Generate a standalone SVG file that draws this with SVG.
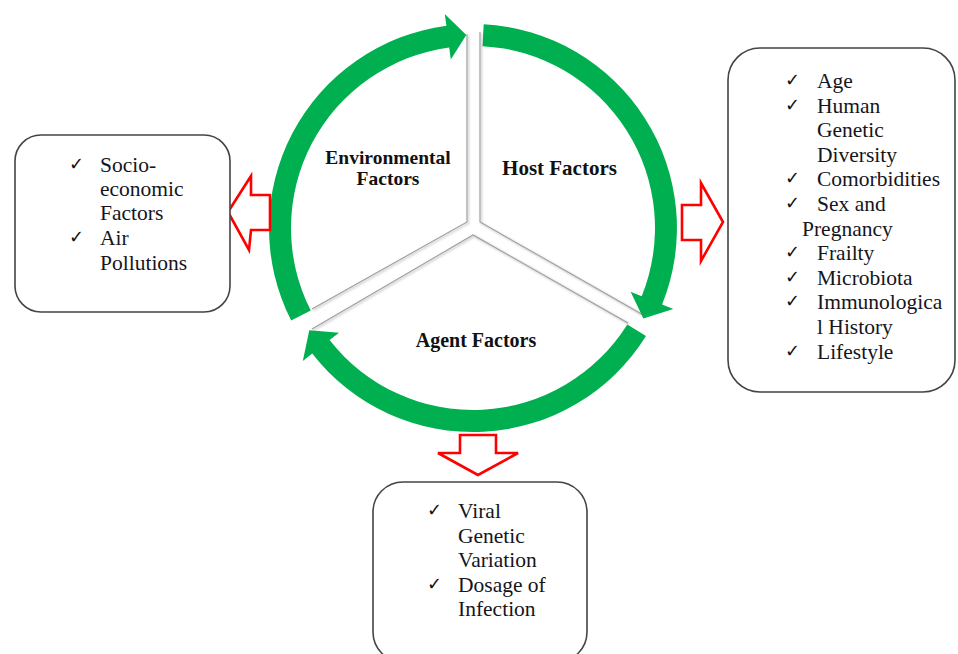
<svg xmlns="http://www.w3.org/2000/svg" width="958" height="654" viewBox="0 0 958 654">
<defs>
<filter id="sh" x="-10%" y="-10%" width="120%" height="120%">
<feDropShadow dx="1.2" dy="1.2" stdDeviation="0.8" flood-color="#888" flood-opacity="0.7"/>
</filter>
<style>
.wedge{fill:none;stroke:#a0a0a0;stroke-width:1.1;stroke-linejoin:miter;filter:url(#sh)}
.band{fill:#00b050;stroke:none}
.lbl{font-weight:bold;fill:#111}
.box{fill:#fff;stroke:#444;stroke-width:1.6}
.txt{font-size:21.5px;fill:#151520}
.chk{font-size:18px;font-weight:bold;fill:#111}
.red{fill:#fff;stroke:#ff0000;stroke-width:2.6;stroke-linejoin:miter}
</style>
</defs>
<rect width="958" height="654" fill="#fff"/>

<g id="env-wedge"><path class="wedge" d="M312,309 L467,222 L467,34"/></g>
<g id="host-wedge"><path class="wedge" d="M480,32 L480,222 L645,316"/></g>
<g id="agent-wedge"><path class="wedge" d="M312,329 L473,235 L628,323"/></g>

<g id="cycle-arrows">
<path class="band" d="M291.2,320.6 A204,204 0 0 1 446.4,25.8 L444.8,13.9 L466.3,35.1 L450.8,59.5 L449.2,47.6 A182,182 0 0 0 310.8,310.6 Z"/>
<path class="band" d="M483.7,24.3 A204,204 0 0 1 662.1,304.4 L673.3,308.9 L643.4,318.6 L630.6,291.7 L641.7,296.2 A182,182 0 0 0 482.5,46.2 Z"/>
<path class="band" d="M646.0,336.1 A204,204 0 0 1 312.2,353.6 L302.8,361.0 L309.3,330.3 L339.0,332.7 L329.6,340.1 A182,182 0 0 0 627.3,324.4 Z"/>
</g>

<g id="labels" font-family="'Liberation Serif', 'Times New Roman', serif">
<text class="lbl" x="388" y="164" font-size="19.5" text-anchor="middle">Environmental</text>
<text class="lbl" x="388" y="185" font-size="19.5" text-anchor="middle">Factors</text>
<text class="lbl" x="559.5" y="175" font-size="21" text-anchor="middle">Host Factors</text>
<text class="lbl" x="476" y="347" font-size="20" text-anchor="middle">Agent Factors</text>
</g>

<g id="connectors">
<path class="red" d="M228,212 L251,176 L251,195 L270,195 L270,230 L251,230 L249,250 Z"/>
<path class="red" d="M723,222 L701,183 L701,205 L682,205 L682,240 L701,240 L701,261 Z"/>
<path class="red" d="M478,475 L438,453 L460,453 L460,435 L496,435 L496,453 L518,453 Z"/>
</g>

<g id="env-box">
<rect class="box" x="15" y="135" width="215" height="177" rx="26"/>
<g font-family="'DejaVu Sans', sans-serif">
<text class="chk" x="69" y="170">✓</text>
<text class="chk" x="69" y="243">✓</text>
</g>
<g font-family="'Liberation Serif', 'Times New Roman', serif">
<text class="txt" x="100" y="172">Socio-</text>
<text class="txt" x="100" y="196">economic</text>
<text class="txt" x="100" y="220">Factors</text>
<text class="txt" x="100" y="245">Air</text>
<text class="txt" x="100" y="270">Pollutions</text>
</g>
</g>

<g id="host-box">
<rect class="box" x="728" y="48" width="227" height="344" rx="32"/>
<g font-family="'DejaVu Sans', sans-serif">
<text class="chk" x="785" y="86">✓</text>
<text class="chk" x="785" y="110.6">✓</text>
<text class="chk" x="785" y="184.4">✓</text>
<text class="chk" x="785" y="209">✓</text>
<text class="chk" x="785" y="258.2">✓</text>
<text class="chk" x="785" y="282.8">✓</text>
<text class="chk" x="785" y="307.4">✓</text>
<text class="chk" x="785" y="356.6">✓</text>
</g>
<g font-family="'Liberation Serif', 'Times New Roman', serif">
<text class="txt" x="817" y="88">Age</text>
<text class="txt" x="817" y="112.6">Human</text>
<text class="txt" x="817" y="137.2">Genetic</text>
<text class="txt" x="817" y="161.8">Diversity</text>
<text class="txt" x="817" y="186.4">Comorbidities</text>
<text class="txt" x="817" y="211">Sex and</text>
<text class="txt" x="802" y="235.6">Pregnancy</text>
<text class="txt" x="817" y="260.2">Frailty</text>
<text class="txt" x="817" y="284.8">Microbiota</text>
<text class="txt" x="817" y="309.4">Immunologica</text>
<text class="txt" x="817" y="334">l History</text>
<text class="txt" x="817" y="358.6">Lifestyle</text>
</g>
</g>

<g id="agent-box">
<rect class="box" x="373" y="482" width="214" height="180" rx="30"/>
<g font-family="'DejaVu Sans', sans-serif">
<text class="chk" x="427" y="516">✓</text>
<text class="chk" x="427" y="590">✓</text>
</g>
<g font-family="'Liberation Serif', 'Times New Roman', serif">
<text class="txt" x="458" y="518">Viral</text>
<text class="txt" x="458" y="543">Genetic</text>
<text class="txt" x="458" y="567">Variation</text>
<text class="txt" x="458" y="592">Dosage of</text>
<text class="txt" x="458" y="616">Infection</text>
</g>
</g>
</svg>
